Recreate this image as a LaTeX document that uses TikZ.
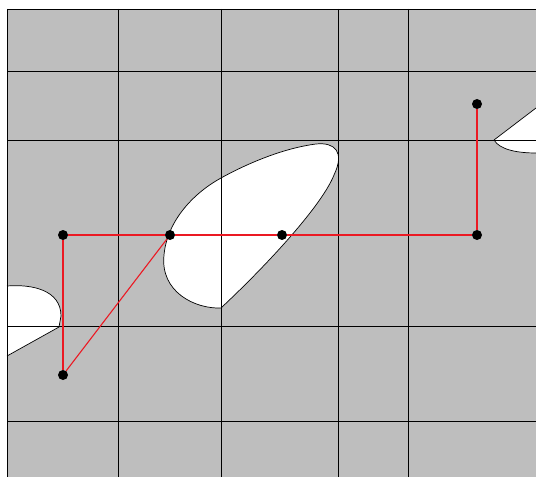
\documentclass[tikz,border=0pt]{standalone}
\definecolor{bggray}{RGB}{190,190,190}
\definecolor{edgered}{RGB}{235,25,35}
\begin{document}
\begin{tikzpicture}[x=1bp,y=-1bp,
  gridline/.style={black,line width=0.9bp},
  region/.style={fill=white,draw=black,line width=0.7bp,line join=miter},
  edge/.style={edgered,line width=1.1bp},
  dot/.style={circle,fill=black,inner sep=0pt,minimum size=10bp}]
\useasboundingbox (0,0) rectangle (536,477);
\fill[bggray] (7,9) rectangle (536,477);
% white regions
\draw[region] (221,308) .. controls (270,262) and (322,205) .. (334,175)
  .. controls (345,152) and (335,142) .. (316,144)
  .. controls (285,148) and (250,162) .. (221,178)
  .. controls (192,194) and (167,222) .. (164,255)
  .. controls (160,292) and (195,309) .. (221,308) -- cycle;
\draw[region] (7,286) .. controls (32,284) and (61,290) .. (61,316) -- (59,327) -- (7,356);
\draw[region] (536,108) -- (494,140) .. controls (500,150) and (518,153) .. (536,153);
% grid
\foreach \x in {7.5,118.5,221.5,338.5,408.5} \draw[gridline] (\x,9) -- (\x,477);
\foreach \y in {9.5,71.5,140.5,326.5,421.5} \draw[gridline] (7,\y) -- (536,\y);
% nodes
\node[dot] (a) at (63,235) {};
\node[dot] (b) at (170,235) {};
\node[dot] (c) at (282,235) {};
\node[dot] (d) at (477,235) {};
\node[dot] (e) at (477,104) {};
\node[dot] (f) at (63,375) {};
% connectors
\draw[edge] (a) -- (b);
\draw[edge] (b) -- (c);
\draw[edge] (c) -- (d);
\draw[edge] (d) -- (e);
\draw[edge] (a) -- (f);
\draw[edge] (b) -- (f);
\end{tikzpicture}
\end{document}
